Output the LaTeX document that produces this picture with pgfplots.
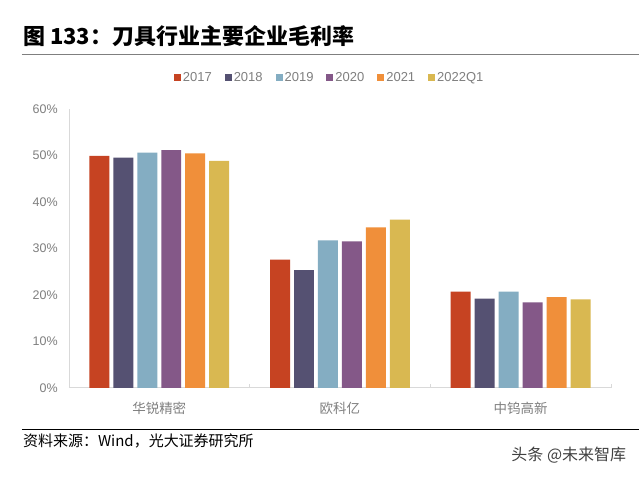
\documentclass[border=0pt]{standalone}
\usepackage{pgfplots}
\pgfplotsset{compat=1.18}
\usepackage{fontspec}
\setmainfont{Liberation Sans}
\newfontfamily\cjk{Noto Sans CJK SC}
\definecolor{c1}{HTML}{C64322}
\definecolor{c2}{HTML}{555172}
\definecolor{c3}{HTML}{84ADC2}
\definecolor{c4}{HTML}{845888}
\definecolor{c5}{HTML}{F08F3A}
\definecolor{c6}{HTML}{D9B851}
\definecolor{tickgray}{HTML}{7F7F7F}
\definecolor{axisgray}{HTML}{D9D9D9}
\pgfplotstableread{
g v17 v18 v19 v20 v21 v22
0 49.9 49.5 50.6 51.1 50.4 48.8
1 27.6 25.3 31.7 31.5 34.5 36.2
2 20.7 19.2 20.7 18.4 19.5 19.0
}\datatable
\begin{document}
\begin{tikzpicture}[x=1pt,y=1pt]
\path[fill=white] (0,0) rectangle (640,478);
\node[anchor=west, inner sep=0pt, font=\cjk\bfseries\fontsize{22}{22}\selectfont] at (23,441.5) {图 133：刀具行业主要企业毛利率};
\draw[color=tickgray, line width=1pt] (22,423.5) -- (640,423.5);
\begin{axis}[
  at={(69pt,89.7pt)}, anchor=south west,
  width=542.7pt, height=279.3pt, scale only axis,
  ybar=4pt, bar width=20pt,
  xmin=-0.5, xmax=2.5, ymin=0, ymax=60,
  axis x line*=bottom, axis y line*=left,
  axis line style={axisgray, line width=0.8pt},
  xtick={0,1,2},
  xticklabels={{\cjk 华锐精密},{\cjk 欧科亿},{\cjk 中钨高新}},
  major tick length=0pt,
  extra x ticks={0.5,1.5,2.5},
  extra x tick labels={},
  extra x tick style={major tick length=4pt, tick align=inside, tick style={axisgray, line width=0.8pt}},
  ytick={0,10,...,60},
  yticklabel={\pgfmathprintnumber{\tick}\%},
  /pgf/number format/assume math mode=true,
  tick label style={font=\fontsize{12.5}{12.5}\selectfont, text=tickgray},
  yticklabel style={inner sep=0pt, xshift=-11pt},
  xticklabel style={inner sep=0pt, yshift=-14pt, font=\fontsize{13.5}{13.5}\selectfont},
  legend style={at={(0.481,1.111)}, anchor=center, draw=none, fill=none,
    font=\fontsize{13}{13}\selectfont, text=tickgray,
    /tikz/every even column/.append style={column sep=11pt},
    inner sep=0pt},
  legend columns=6,
  legend image code/.code={\fill[#1, draw=none] (0pt,-3.5pt) rectangle (7pt,3.5pt);},
]
\addplot[fill=c1, draw=none] table[x=g, y=v17] {\datatable};
\addplot[fill=c2, draw=none] table[x=g, y=v18] {\datatable};
\addplot[fill=c3, draw=none] table[x=g, y=v19] {\datatable};
\addplot[fill=c4, draw=none] table[x=g, y=v20] {\datatable};
\addplot[fill=c5, draw=none] table[x=g, y=v21] {\datatable};
\addplot[fill=c6, draw=none] table[x=g, y=v22] {\datatable};
\legend{2017,2018,2019,2020,2021,2022Q1}
\end{axis}
\draw[black, line width=1.5pt] (22,48) -- (640,48);
\node[anchor=west, inner sep=0pt, font=\cjk\fontsize{15}{15}\selectfont] at (23,36.5) {资料来源：Wind，光大证券研究所};
\node[anchor=east, inner sep=0pt, text={rgb,255:red,64;green,64;blue,64}, font=\cjk\fontsize{16}{16}\selectfont] at (627,22) {头条 @未来智库};
\end{tikzpicture}
\end{document}
